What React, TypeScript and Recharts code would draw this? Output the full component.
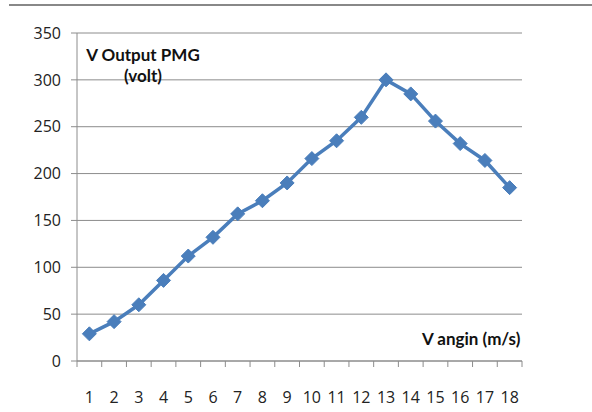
import { LineChart, Line, XAxis, YAxis, CartesianGrid } from "recharts";

const speeds = [1, 2, 3, 4, 5, 6, 7, 8, 9, 10, 11, 12, 13, 14, 15, 16, 17, 18];
const voltages = [29, 42, 60, 86, 112, 132, 157, 171, 190, 216, 235, 260, 300, 285, 256, 232, 214, 185];
const yTicks = [0, 50, 100, 150, 200, 250, 300, 350];

const data = speeds.map((s, i) => ({ speed: s, volt: voltages[i] }));

const BLUE = "#4a7ebb";
const GRID = "#8c8c8c";
const TICK_FONT = "'Open Sans', sans-serif";
const LABEL_FONT = "Lato, 'Open Sans', sans-serif";
const X_TICK_MARGIN = 31;

function Diamond(props: any) {
  const { cx, cy } = props;
  if (cx == null || cy == null) return null;
  const r = 7;
  return (
    <polygon
      points={`${cx},${cy - r} ${cx + r},${cy} ${cx},${cy + r} ${cx - r},${cy}`}
      fill={BLUE}
      stroke={BLUE}
      strokeWidth={1}
    />
  );
}

// category label plus Excel-style tick marks on the category boundaries
function XTick(props: any) {
  const { x, y, payload, index, width } = props;
  const half = (width || 445) / speeds.length / 2;
  const axisY = y - X_TICK_MARGIN;
  const last = index === speeds.length - 1;
  return (
    <g>
      <line x1={x - half} x2={x - half} y1={axisY} y2={axisY + 6} stroke={GRID} />
      {last && <line x1={x + half} x2={x + half} y1={axisY} y2={axisY + 6} stroke={GRID} />}
      <text
        x={x}
        y={y}
        dy="0.71em"
        textAnchor="middle"
        fill="#222"
        fontSize={16}
        fontFamily={TICK_FONT}
      >
        {payload.value}
      </text>
    </g>
  );
}

const labelStyle = {
  position: "absolute" as const,
  fontFamily: LABEL_FONT,
  fontWeight: 700,
  fontSize: 17,
  lineHeight: "21px",
  color: "#111",
  whiteSpace: "nowrap" as const,
};

export default function App() {
  return (
    <div style={{ position: "absolute", left: 0, top: 0, width: 592, height: 412, background: "#fff" }}>
      <div
        style={{
          position: "absolute",
          left: 9,
          top: 4,
          width: 583,
          height: 2,
          background: "#888",
        }}
      />
      <LineChart
        width={592}
        height={412}
        data={data}
        margin={{ top: 33, right: 70, bottom: 0, left: 0 }}
      >
        <CartesianGrid horizontal vertical={false} stroke={GRID} strokeWidth={1} />
        <XAxis
          dataKey="speed"
          type="number"
          domain={[0.5, 18.5]}
          ticks={speeds}
          interval={0}
          axisLine={{ stroke: GRID }}
          tickLine={false}
          tickSize={0}
          tickMargin={X_TICK_MARGIN}
          height={51}
          tick={<XTick />}
        />
        <YAxis
          domain={[0, 350]}
          ticks={yTicks}
          interval={0}
          width={77}
          axisLine={{ stroke: GRID }}
          tickLine={{ stroke: GRID }}
          tickSize={6}
          tickMargin={10}
          tick={{ fill: "#222", fontSize: 16, fontFamily: TICK_FONT }}
        />
        <Line
          dataKey="volt"
          stroke={BLUE}
          strokeWidth={3.5}
          dot={<Diamond />}
          activeDot={false}
          isAnimationActive={false}
        />
      </LineChart>
      <div style={{ ...labelStyle, left: 83, top: 44, width: 120, textAlign: "center" }}>
        <div>V Output PMG</div>
        <div>(volt)</div>
      </div>
      <div style={{ ...labelStyle, left: 422, top: 328 }}>V angin (m/s)</div>
    </div>
  );
}
